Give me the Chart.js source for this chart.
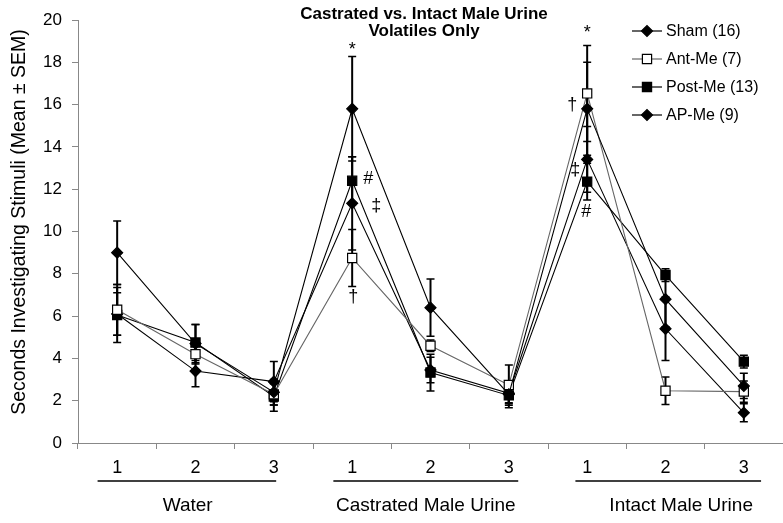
<!DOCTYPE html>
<html><head><meta charset="utf-8">
<script src="https://cdn.jsdelivr.net/npm/chart.js@4"></script>
<style>html,body{margin:0;padding:0;background:#fff}</style>
</head><body>
<canvas id="c" width="783" height="523"></canvas>
<script>
const categories = ['1','2','3','1','2','3','1','2','3'];
const groupLabels = ['Water','Castrated Male Urine','Intact Male Urine'];
const seriesNames = ['Sham (16)','Ant-Me (7)','Post-Me (13)','AP-Me (9)'];
const sham    = [9.0, 4.7, 2.4, 15.8, 6.4, 2.3, 15.8, 6.8, 2.7];
const shamErr = [1.5, 0.9, 0.6, 2.47, 1.35, 0.4, 2.2, 1.3, 0.6];
const antMe   = [6.3, 4.2, 2.3, 8.75, 4.6, 2.74, 16.53, 2.47, 2.43];
const antErr  = [1.2, 0.47, 0.5, 1.35, 0.27, 0.95, 2.27, 0.65, 0.5];
const postMe  = [6.05, 4.75, 2.2, 12.4, 3.33, 2.25, 12.36, 7.94, 3.85];
const postErr = [1.3, 0.85, 0.7, 1.14, 0.87, 0.58, 0.87, 0.3, 0.3];
const apMe    = [6.1, 3.4, 2.9, 11.33, 3.45, 2.35, 13.41, 5.4, 1.43];
const apErr   = [1.0, 0.74, 0.95, 2.2, 0.6, 0.5, 1.55, 1.5, 0.43];
const yMin = 0, yMax = 20, yStep = 2;
const titleLines = ['Castrated vs. Intact Male Urine','Volatiles Only'];
const yTitle = 'Seconds Investigating Stimuli (Mean \u00b1 SEM)';
// group underline spans and label centres, in category units
const groupSpans = [[-0.25, 2.03], [2.76, 5.12], [5.85, 8.22]];
const groupCenters = [0.9, 3.94, 7.2];
const annotations = [
  {i:3, v:18.6, dx:0, s:'*'}, {i:3, v:12.5, dx:16, s:'#'}, {i:3, v:11.2, dx:24, s:'\u2021'}, {i:3, v:6.9, dx:1, s:'\u2020'},
  {i:6, v:19.4, dx:0, s:'*'}, {i:6, v:16.0, dx:-15, s:'\u2020'}, {i:6, v:12.9, dx:-12, s:'\u2021'}, {i:6, v:10.9, dx:-1, s:'#'}
];

const FONT = '"Liberation Sans", Arial, sans-serif';

function mk(label, data, err, style, fill, line, r) {
  return {label, data, errors: err, borderColor: line, borderWidth: 1.1, tension: 0, fill: false,
    pointStyle: style, pointRadius: r, pointHoverRadius: r, pointBackgroundColor: fill,
    pointBorderColor: '#000', pointBorderWidth: 1.2};
}

const errorBars = {
  id: 'errorBars',
  beforeDatasetsDraw(chart) {
    const ctx = chart.ctx, y = chart.scales.y;
    ctx.save();
    ctx.strokeStyle = '#000';
    chart.data.datasets.forEach((ds, di) => {
      const meta = chart.getDatasetMeta(di);
      meta.data.forEach((pt, i) => {
        const v = ds.data[i], e = ds.errors[i];
        const yt = y.getPixelForValue(v + e), yb = y.getPixelForValue(v - e);
        ctx.lineWidth = 2;
        ctx.beginPath(); ctx.moveTo(pt.x, yt); ctx.lineTo(pt.x, yb); ctx.stroke();
        ctx.lineWidth = 1.5;
        ctx.beginPath(); ctx.moveTo(pt.x - 4, yt); ctx.lineTo(pt.x + 4, yt);
        ctx.moveTo(pt.x - 4, yb); ctx.lineTo(pt.x + 4, yb); ctx.stroke();
      });
    });
    ctx.restore();
  }
};

const decor = {
  id: 'decor',
  afterDraw(chart) {
    const ctx = chart.ctx, x = chart.scales.x, y = chart.scales.y, ca = chart.chartArea;
    const w = (ca.right - ca.left) / categories.length;
    const px = u => x.getPixelForValue(0) + u * w;
    ctx.save();
    ctx.fillStyle = '#000';
    // title
    ctx.font = 'bold 17px ' + FONT;
    ctx.textAlign = 'center'; ctx.textBaseline = 'middle';
    titleLines.forEach((t, k) => ctx.fillText(t, 424, 14 + k * 17));
    // y title
    ctx.save();
    ctx.translate(20, 222);
    ctx.rotate(-Math.PI / 2);
    ctx.font = '19.5px ' + FONT;
    ctx.fillText(yTitle, 0, 0);
    ctx.restore();
    // group underlines and labels
    ctx.font = '19px ' + FONT;
    groupLabels.forEach((g, k) => {
      ctx.strokeStyle = '#000'; ctx.lineWidth = 1.5;
      ctx.beginPath(); ctx.moveTo(px(groupSpans[k][0]), 481); ctx.lineTo(px(groupSpans[k][1]), 481); ctx.stroke();
      ctx.fillText(g, px(groupCenters[k]), 506);
    });
    // annotations
    ctx.font = '18px ' + FONT;
    annotations.forEach(a => {
      ctx.fillText(a.s, x.getPixelForValue(a.i) + a.dx, y.getPixelForValue(a.v));
    });
    // legend
    ctx.textAlign = 'left';
    ctx.font = '16px ' + FONT;
    chart.data.datasets.forEach((ds, k) => {
      const ly = 31 + k * 28;
      ctx.strokeStyle = ds.borderColor; ctx.lineWidth = 1.2;
      ctx.beginPath(); ctx.moveTo(632, ly); ctx.lineTo(662, ly); ctx.stroke();
      ctx.fillStyle = ds.pointBackgroundColor; ctx.strokeStyle = '#000'; ctx.lineWidth = 1.2;
      Chart.helpers.drawPoint(ctx, {pointStyle: ds.pointStyle, radius: ds.pointRadius, borderWidth: 1.2}, 647, ly);
      ctx.fillStyle = '#000';
      ctx.fillText(ds.label, 666, ly + 1);
    });
    ctx.restore();
  }
};

new Chart(document.getElementById('c'), {
  type: 'line',
  data: {
    labels: categories,
    datasets: [
      mk(seriesNames[0], sham, shamErr, 'rectRot', '#000', '#000', 5.5),
      mk(seriesNames[1], antMe, antErr, 'rect', '#fff', '#666', 6.5),
      mk(seriesNames[2], postMe, postErr, 'rect', '#000', '#000', 6.5),
      mk(seriesNames[3], apMe, apErr, 'rectRot', '#000', '#000', 5.5)
    ]
  },
  options: {
    responsive: false, animation: false, devicePixelRatio: 1,
    layout: {autoPadding: false, padding: {top: 20, right: 0, left: 0, bottom: 0}},
    plugins: {legend: {display: false}, title: {display: false}, tooltip: {enabled: false}},
    scales: {
      x: {
        offset: true,
        grid: {offset: true, drawOnChartArea: false, tickLength: 6, color: '#888'},
        border: {color: '#888'},
        ticks: {font: {family: FONT, size: 18}, color: '#000', padding: 8},
        afterFit(s) { s.height = 80; s.paddingLeft = 0; s.paddingRight = 0; }
      },
      y: {
        min: yMin, max: yMax,
        grid: {drawOnChartArea: false, tickLength: 6, color: '#888'},
        border: {color: '#888'},
        ticks: {stepSize: yStep, font: {family: FONT, size: 17}, color: '#000', padding: 10},
        afterFit(s) { s.width = 78; s.paddingTop = 0; s.paddingBottom = 0; }
      }
    }
  },
  plugins: [errorBars, decor]
});
</script>
</body></html>
